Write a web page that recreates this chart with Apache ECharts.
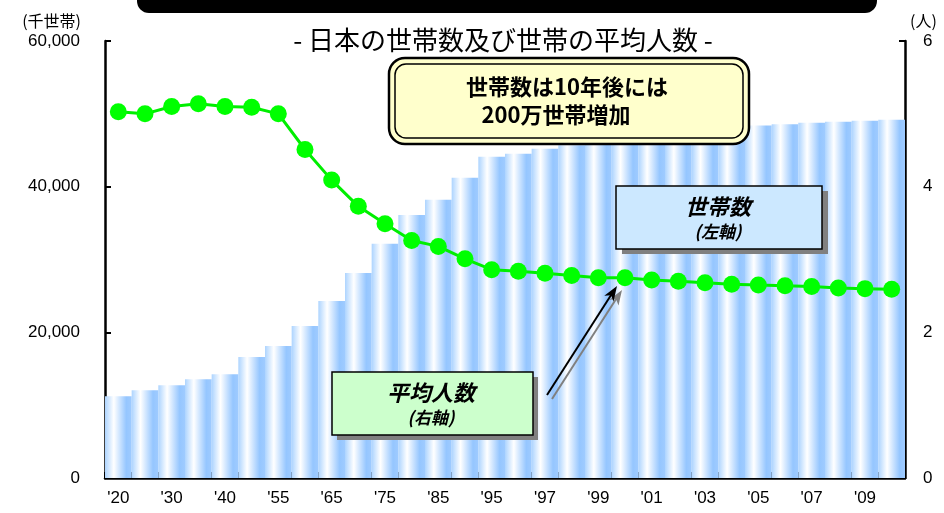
<!DOCTYPE html>
<html>
<head>
<meta charset="utf-8">
<script src="https://cdn.jsdelivr.net/npm/echarts@6/dist/echarts.min.js"></script>
<style>
html,body{margin:0;padding:0;background:#fff;}
#c{width:944px;height:513px;}
</style>
</head>
<body>
<div id="c"></div>
<script>
const categories = ["'20","'25","'30","'35","'40","'50","'55","'60","'65","'70","'75","'80","'85","'90","'95","'96","'97","'98","'99","'00","'01","'02","'03","'04","'05","'06","'07","'08","'09","'10"];
const households = [11230,12060,12750,13570,14260,16600,18110,20860,24310,28160,32150,36100,38210,41240,44100,44530,45190,45700,46050,46500,46900,47300,47650,48000,48390,48580,48770,48900,49040,49180];
const avgPersons = [5.03,5.00,5.10,5.14,5.10,5.09,5.00,4.51,4.09,3.73,3.49,3.26,3.18,3.01,2.86,2.84,2.81,2.78,2.75,2.75,2.72,2.70,2.68,2.66,2.65,2.64,2.63,2.61,2.60,2.59];
const leftTicks = [0,20000,40000,60000];
const rightTicks = [0,2,4,6];

const FONT = "'Liberation Sans', 'Noto Sans CJK JP', sans-serif";
const JFONT = "'Noto Sans CJK JP', 'Liberation Sans', sans-serif";

const chart = echarts.init(document.getElementById('c'));

const barGrad = new echarts.graphic.LinearGradient(0,0,1,0,[
  {offset:0, color:'#add4ff'},
  {offset:0.33, color:'#ffffff'},
  {offset:0.8, color:'#95c6ff'},
  {offset:1, color:'#9fcbff'}
]);

// arrow geometry (annotation)
const tip = [617, 286], tail = [547, 395];
function arrowHead(t, s, dx, dy){
  const vx = t[0]-s[0], vy = t[1]-s[1];
  const L = Math.sqrt(vx*vx+vy*vy); const ux = vx/L, uy = vy/L;
  const px = -uy, py = ux;
  const tx = t[0]+dx, ty = t[1]+dy;
  return [[tx,ty],[tx-15*ux+5.5*px, ty-15*uy+5.5*py],[tx-11*ux, ty-11*uy],[tx-15*ux-5.5*px, ty-15*uy-5.5*py]];
}

chart.setOption({
  animation:false,
  backgroundColor:'#ffffff',
  grid:{left:105, right:39, top:41, bottom:35, containLabel:false},
  xAxis:{
    type:'category',
    data:categories,
    boundaryGap:true,
    axisLine:{show:true, lineStyle:{color:'#000', width:2.5}},
    axisTick:{show:true, inside:true, length:6, interval:0, lineStyle:{color:'#000', width:2}},
    axisLabel:{interval:1, margin:12, color:'#000', fontSize:17, fontFamily:FONT},
    splitLine:{show:false}
  },
  yAxis:[
    {
      type:'value', min:0, max:60000, interval:20000, position:'left',
      name:'(千世帯)', nameLocation:'end', nameGap:12,
      nameTextStyle:{color:'#000', fontSize:16, fontFamily:JFONT, align:'right', padding:[0,24,0,0]},
      axisLine:{show:true, lineStyle:{color:'#000', width:2.5}},
      axisTick:{show:true, inside:true, length:6, lineStyle:{color:'#000', width:2}},
      axisLabel:{margin:25, color:'#000', fontSize:17, fontFamily:FONT,
        formatter:function(v){return leftTicks.indexOf(v)>=0 ? v.toLocaleString('en-US') : '';}},
      splitLine:{show:false}
    },
    {
      type:'value', min:0, max:6, interval:2, position:'right',
      name:'(人)', nameLocation:'end', nameGap:12,
      nameTextStyle:{color:'#000', fontSize:16, fontFamily:JFONT, align:'left', padding:[0,0,0,5]},
      axisLine:{show:true, lineStyle:{color:'#000', width:2.5}},
      axisTick:{show:true, inside:true, length:6, lineStyle:{color:'#000', width:2}},
      axisLabel:{margin:18, color:'#000', fontSize:17, fontFamily:FONT,
        formatter:function(v){return rightTicks.indexOf(v)>=0 ? String(v) : '';}},
      splitLine:{show:false}
    }
  ],
  series:[
    {
      name:'世帯数', type:'bar', yAxisIndex:0, data:households,
      barCategoryGap:'0%', barGap:'0%',
      itemStyle:{color:barGrad},
      z:2
    },
    {
      name:'平均人数', type:'line', yAxisIndex:1, data:avgPersons,
      symbol:'circle', symbolSize:17, showSymbol:true,
      lineStyle:{color:'#00ee00', width:3},
      itemStyle:{color:'#00ff00'},
      z:5
    }
  ],
  graphic:[
    // top black bar
    {type:'rect', shape:{x:137, y:-20, width:740, height:33, r:12}, style:{fill:'#000'}, z:100},
    // title
    {type:'text', x:503, y:40, style:{text:'- 日本の世帯数及び世帯の平均人数 -', fill:'#000', font:'normal 26px '+JFONT, textAlign:'center', textVerticalAlign:'middle'}, z:100},
    // yellow rounded box with double border
    {type:'rect', shape:{x:389, y:58, width:360, height:86, r:16}, style:{fill:'#ffffcc', stroke:'#000', lineWidth:2.5}, z:100},
    {type:'rect', shape:{x:395, y:64, width:348, height:74, r:11}, style:{fill:'none', stroke:'#000', lineWidth:1.5}, z:101},
    {type:'text', x:567, y:87, style:{text:'世帯数は10年後には', fill:'#000', font:'bold 22px '+JFONT, textAlign:'center', textVerticalAlign:'middle'}, z:102},
    {type:'text', x:556, y:115, style:{text:'200万世帯増加', fill:'#000', font:'bold 22px '+JFONT, textAlign:'center', textVerticalAlign:'middle'}, z:102},
    // blue label box (世帯数)
    {type:'rect', shape:{x:622, y:191, width:206, height:63}, style:{fill:'#808080'}, z:100},
    {type:'rect', shape:{x:616, y:186, width:206, height:63}, style:{fill:'#cce8ff', stroke:'#000', lineWidth:1.5}, z:101},
    {type:'text', x:718, y:207, style:{text:'世帯数', fill:'#000', font:'italic bold 22px '+JFONT, textAlign:'center', textVerticalAlign:'middle'}, z:102},
    {type:'text', x:718, y:232, style:{text:'(左軸)', fill:'#000', font:'italic bold 17px '+JFONT, textAlign:'center', textVerticalAlign:'middle'}, z:102},
    // green label box (平均人数)
    {type:'rect', shape:{x:337, y:377, width:201, height:63}, style:{fill:'#808080'}, z:100},
    {type:'rect', shape:{x:332, y:372, width:201, height:63}, style:{fill:'#ccffcc', stroke:'#000', lineWidth:1.5}, z:101},
    {type:'text', x:431, y:393, style:{text:'平均人数', fill:'#000', font:'italic bold 22px '+JFONT, textAlign:'center', textVerticalAlign:'middle'}, z:102},
    {type:'text', x:431, y:418, style:{text:'(右軸)', fill:'#000', font:'italic bold 17px '+JFONT, textAlign:'center', textVerticalAlign:'middle'}, z:102},
    // arrow shadow
    {type:'line', shape:{x1:tail[0]+5, y1:tail[1]+4, x2:tip[0]+5-4, y2:tip[1]+4+6}, style:{stroke:'#808080', lineWidth:2}, z:100},
    {type:'polygon', shape:{points:arrowHead(tip, tail, 5, 4)}, style:{fill:'#808080'}, z:100},
    // arrow
    {type:'line', shape:{x1:tail[0], y1:tail[1], x2:tip[0]-4, y2:tip[1]+6}, style:{stroke:'#000', lineWidth:2}, z:101},
    {type:'polygon', shape:{points:arrowHead(tip, tail, 0, 0)}, style:{fill:'#000'}, z:101}
  ]
});
</script>
</body>
</html>
